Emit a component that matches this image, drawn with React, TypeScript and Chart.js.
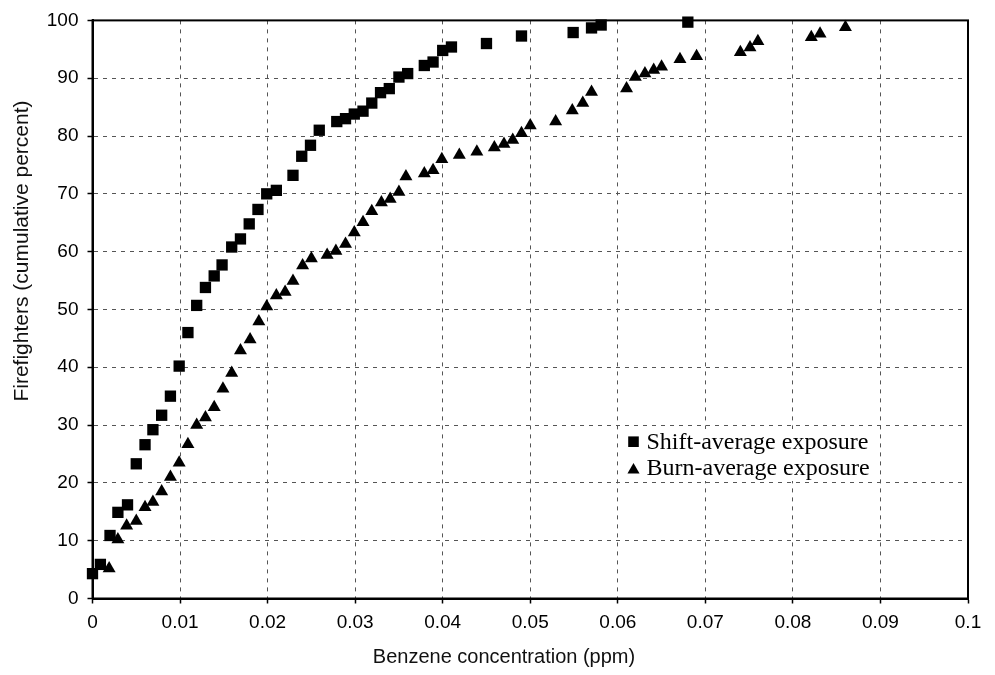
import { useEffect, useRef } from 'react';
import { Chart, registerables } from 'chart.js';
import { drawPoint } from 'chart.js/helpers';

Chart.register(...registerables);

// Shift-average exposure: benzene concentration (ppm) vs cumulative percent of firefighters
const shiftConcentration = [
  0.0, 0.0009, 0.002, 0.0029, 0.004, 0.005, 0.006, 0.0069, 0.0079, 0.0089,
  0.0099, 0.0109, 0.0119, 0.0129, 0.0139, 0.0148, 0.0159, 0.0169, 0.0179, 0.0189,
  0.0199, 0.021, 0.0229, 0.0239, 0.0249, 0.0259, 0.0279, 0.0289, 0.0299, 0.0309,
  0.0319, 0.0329, 0.0339, 0.035, 0.036, 0.0379, 0.0389, 0.04, 0.041, 0.045,
  0.049, 0.0549, 0.057, 0.0581, 0.068,
];
const shiftPercent = [
  4.3, 5.9, 10.9, 14.9, 16.2, 23.3, 26.6, 29.2, 31.7, 35.0,
  40.2, 46.0, 50.7, 53.8, 55.8, 57.7, 60.8, 62.2, 64.8, 67.3,
  70.0, 70.6, 73.2, 76.5, 78.4, 81.0, 82.5, 83.0, 83.8, 84.3,
  85.7, 87.5, 88.2, 90.2, 90.8, 92.2, 92.8, 94.8, 95.4, 96.0,
  97.3, 97.9, 98.7, 99.2, 99.7,
];

// Burn-average exposure
const burnConcentration = [
  0.0019, 0.0029, 0.0039, 0.005, 0.006, 0.0069, 0.0079, 0.0089, 0.0099, 0.0109,
  0.0119, 0.0129, 0.0139, 0.0149, 0.0159, 0.0169, 0.018, 0.019, 0.0199, 0.021,
  0.022, 0.0229, 0.024, 0.025, 0.0268, 0.0278, 0.0289, 0.0299, 0.0309, 0.0319,
  0.033, 0.034, 0.035, 0.0358, 0.0379, 0.0389, 0.0399, 0.0419, 0.0439, 0.0459,
  0.047, 0.048, 0.049, 0.05, 0.0529, 0.0548, 0.056, 0.057, 0.061, 0.062,
  0.0631, 0.0641, 0.065, 0.0671, 0.069, 0.074, 0.0751, 0.076, 0.0821, 0.0831,
  0.086,
];
const burnPercent = [
  5.2, 10.2, 12.6, 13.4, 15.8, 16.7, 18.5, 21.0, 23.5, 26.7,
  30.0, 31.3, 33.1, 36.3, 39.0, 42.9, 44.8, 47.9, 50.5, 52.4,
  53.0, 54.9, 57.6, 58.8, 59.4, 60.1, 61.3, 63.3, 65.1, 67.0,
  68.5, 69.1, 70.3, 73.0, 73.5, 74.1, 76.0, 76.7, 77.3, 78.0,
  78.6, 79.3, 80.5, 81.8, 82.5, 84.4, 85.7, 87.6, 88.2, 90.2,
  90.8, 91.4, 92.0, 93.3, 93.8, 94.5, 95.3, 96.4, 97.1, 97.7,
  98.8,
];

const seriesNames = ['Shift-average exposure', 'Burn-average exposure'];
const xTickLabels = ['0', '0.01', '0.02', '0.03', '0.04', '0.05', '0.06', '0.07', '0.08', '0.09', '0.1'];
const yTickLabels = ['0', '10', '20', '30', '40', '50', '60', '70', '80', '90', '100'];
const xAxisTitle = 'Benzene concentration (ppm)';
const yAxisTitle = 'Firefighters (cumulative percent)';

const SANS = '"Liberation Sans", Arial, sans-serif';
const SERIF = '"Liberation Serif", "Times New Roman", serif';

// Solid box around the plotting area, drawn under the markers
const framePlugin = {
  id: 'frame',
  beforeDatasetsDraw(chart: any) {
    const { ctx, chartArea: a } = chart;
    ctx.save();
    ctx.strokeStyle = '#000';
    ctx.lineWidth = 2;
    ctx.strokeRect(a.left, a.top, a.right - a.left, a.bottom - a.top);
    // white panel behind the inset legend
    ctx.fillStyle = '#fff';
    ctx.fillRect(622, 429, 254, 52);
    ctx.restore();
  },
};

// Axis captions and the inset legend
const annotationsPlugin = {
  id: 'annotations',
  afterDraw(chart: any) {
    const { ctx } = chart;
    ctx.save();
    ctx.fillStyle = '#111';

    ctx.font = `20px ${SANS}`;
    ctx.textAlign = 'center';
    ctx.textBaseline = 'middle';
    ctx.fillText(xAxisTitle, 504, 657);

    ctx.save();
    ctx.translate(22, 251);
    ctx.rotate(-Math.PI / 2);
    ctx.font = `21px ${SANS}`;
    ctx.fillText(yAxisTitle, 0, 0);
    ctx.restore();

    const styles = ['rect', 'triangle'];
    const radii = [7.5, 7];
    ctx.font = `24px ${SERIF}`;
    ctx.textAlign = 'left';
    ctx.textBaseline = 'alphabetic';
    seriesNames.forEach((name, i) => {
      const y = 441.7 + i * 26.7;
      ctx.fillStyle = '#000';
      drawPoint(ctx, { pointStyle: styles[i], radius: radii[i], rotation: 0, borderWidth: 0 } as any, 633.5, y + (i === 1 ? 1.5 : 0));
      ctx.fillStyle = '#000';
      ctx.fillText(name, 646.5, y + 6.8);
    });
    ctx.restore();
  },
};

export default function App() {
  const canvasRef = useRef<HTMLCanvasElement | null>(null);

  useEffect(() => {
    const canvas = canvasRef.current;
    if (!canvas) return;

    const gridCommon = {
      color: '#555',
      lineWidth: 1,
      tickLength: 5,
      tickColor: '#000',
      tickWidth: 1.5,
    };
    const borderCommon = { display: true, color: '#000', width: 2, dash: [4, 5] };

    const chart = new Chart(canvas, {
      type: 'scatter',
      data: {
        datasets: [
          {
            label: seriesNames[1],
            data: burnConcentration.map((x, i) => ({ x, y: burnPercent[i] })),
            pointStyle: 'triangle',
            pointRadius: 7.5,
            pointBorderWidth: 0,
            backgroundColor: '#000',
            borderColor: '#000',
            clip: false,
          },
          {
            label: seriesNames[0],
            data: shiftConcentration.map((x, i) => ({ x, y: shiftPercent[i] })),
            pointStyle: 'rect',
            pointRadius: 8,
            pointBorderWidth: 0,
            backgroundColor: '#000',
            borderColor: '#000',
            clip: false,
          },
        ],
      },
      options: {
        responsive: false,
        animation: false,
        events: [],
        layout: { padding: { top: 17.5, right: 27, bottom: 0, left: 0 } },
        plugins: {
          legend: { display: false },
          tooltip: { enabled: false },
          title: { display: false },
        },
        scales: {
          x: {
            type: 'linear',
            min: 0,
            max: 0.1,
            afterFit: (s: any) => {
              s.height = 76.5;
            },
            afterBuildTicks: (s: any) => {
              s.ticks = xTickLabels.map((_, i) => ({ value: i / 100 }));
            },
            ticks: {
              color: '#000',
              font: { family: SANS, size: 19 },
              padding: 8,
              maxRotation: 0,
              autoSkip: false,
              callback: (_v: any, i: number) => xTickLabels[i],
            },
            grid: gridCommon,
            border: borderCommon,
          },
          y: {
            type: 'linear',
            min: 0,
            max: 100,
            afterFit: (s: any) => {
              s.width = 92.5;
            },
            ticks: {
              stepSize: 10,
              color: '#000',
              font: { family: SANS, size: 19 },
              padding: 9,
              autoSkip: false,
              callback: (_v: any, i: number) => yTickLabels[i],
            },
            grid: gridCommon,
            border: borderCommon,
          },
        },
      },
      plugins: [framePlugin, annotationsPlugin],
    } as any);

    return () => chart.destroy();
  }, []);

  return (
    <div style={{ position: 'absolute', left: 0, top: 0, width: 995, height: 675, background: '#fff' }}>
      <canvas ref={canvasRef} width={995} height={675} style={{ display: 'block' }} />
    </div>
  );
}
